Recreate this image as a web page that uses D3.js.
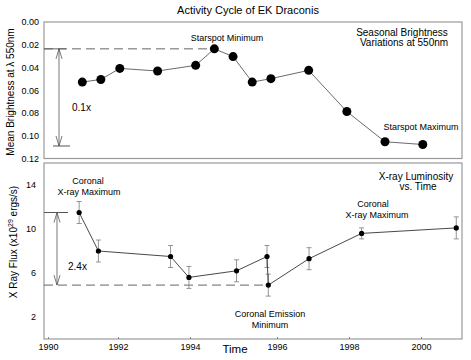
<!DOCTYPE html>
<html>
<head>
<meta charset="utf-8">
<script src="https://cdn.jsdelivr.net/npm/d3@7"></script>
<style>
  body { margin: 0; background: #fff; }
  svg { font-family: "Liberation Sans", Arial, sans-serif; }
  .axis text { font-size: 9px; fill: #000; }
  .axis .domain { display: none; }
  .axis line { stroke: #888; }
</style>
</head>
<body>
<div id="chart"></div>
<script>
// top panel: seasonal brightness
const brightYears = [1990.98, 1991.51, 1992.05, 1993.10, 1994.13, 1994.56, 1994.99, 1995.43, 1995.86, 1996.88, 1997.94, 1999.00, 2000.05];
const brightness = [0.0528, 0.0505, 0.0408, 0.0431, 0.0381, 0.0236, 0.0304, 0.0528, 0.0498, 0.0425, 0.0787, 0.1053, 0.1077];

// bottom panel: x-ray flux
const xrayYears = [1990.89, 1991.44, 1993.46, 1993.97, 1995.07, 1995.77, 1995.80, 1996.89, 1998.35, 2000.98];
const xrayFlux = [11.5, 8.0, 7.5, 5.6, 6.2, 7.5, 4.9, 7.3, 9.6, 10.1];
const xrayErr = [1, 1, 1, 1, 1, 1, 1, 1, 0.5, 1];

const yearTicks = [1990, 1992, 1994, 1996, 1998, 2000];
const brightTicks = [0, 0.02, 0.04, 0.06, 0.08, 0.10, 0.12];
const fluxTicks = [2, 6, 10, 14];

const width = 471, height = 360;
const left = 44, right = 462;
const top1 = 22, bottom1 = 158.5;
const top2 = 163, bottom2 = 339;

const svg = d3.select("#chart").append("svg")
    .attr("width", width)
    .attr("height", height);

// tick labels in the original are not evenly spaced, so a polylinear scale
const xScale = d3.scaleLinear()
    .domain(yearTicks)
    .range([48, 118, 190, 277, 349, 421]);

const yTop = d3.scaleLinear().domain([0, 0.12]).range([top1, bottom1]);
const yBot = d3.scaleLinear().domain([0, 16]).range([bottom2, top2]);

// panel frames
[[top1, bottom1], [top2, bottom2]].forEach(([t, b]) => {
    svg.append("rect")
        .attr("x", left).attr("y", t)
        .attr("width", right - left).attr("height", b - t)
        .attr("fill", "none")
        .attr("stroke", "#999")
        .attr("stroke-width", 1.2);
});

// axes
svg.append("g")
    .attr("class", "axis")
    .attr("transform", `translate(${left},0)`)
    .call(d3.axisLeft(yTop).tickValues(brightTicks).tickFormat(d3.format(".2f")).tickSize(0).tickPadding(5));

svg.append("g")
    .attr("class", "axis")
    .attr("transform", `translate(${left},0)`)
    .call(d3.axisLeft(yBot).tickValues(fluxTicks).tickSize(0).tickPadding(8));

svg.append("g")
    .attr("class", "axis")
    .attr("transform", `translate(0,${bottom2})`)
    .call(d3.axisBottom(xScale).tickValues(yearTicks).tickFormat(d3.format("d")).tickSizeInner(-2).tickSizeOuter(0).tickPadding(5));

// titles and axis labels
svg.append("text")
    .attr("x", 248).attr("y", 14)
    .attr("text-anchor", "middle")
    .attr("font-size", 11)
    .text("Activity Cycle of EK Draconis");

svg.append("text")
    .attr("transform", "translate(14,92) rotate(-90)")
    .attr("text-anchor", "middle")
    .attr("font-size", 10)
    .text("Mean Brightness at \u03bb 550nm");

const yl = svg.append("text")
    .attr("transform", "translate(17,242) rotate(-90)")
    .attr("text-anchor", "middle")
    .attr("font-size", 10);
yl.append("tspan").text("X Ray Flux (x10");
yl.append("tspan").attr("dy", -4).attr("font-size", 7).text("29");
yl.append("tspan").attr("dy", 4).text(" ergs/s)");

svg.append("text")
    .attr("x", 235).attr("y", 353)
    .attr("text-anchor", "middle")
    .attr("font-size", 11.5)
    .text("Time");

// reference lines + range arrows
function rangeArrow(x, y1, y2) {
    svg.append("line")
        .attr("x1", x).attr("x2", x).attr("y1", y1).attr("y2", y2)
        .attr("stroke", "#555").attr("stroke-width", 0.8);
    svg.append("path")
        .attr("d", `M${x - 3},${y1 + 10}L${x},${y1}L${x + 3},${y1 + 10}M${x - 3},${y2 - 10}L${x},${y2}L${x + 3},${y2 - 10}`)
        .attr("fill", "none").attr("stroke", "#555").attr("stroke-width", 0.8);
}

const minB = d3.min(brightness), maxB = 0.109;
svg.append("line")
    .attr("x1", left).attr("x2", xScale(brightYears[brightness.indexOf(minB)]))
    .attr("y1", yTop(minB)).attr("y2", yTop(minB))
    .attr("stroke", "#666").attr("stroke-dasharray", "9,5");
svg.append("line")
    .attr("x1", left).attr("x2", 66)
    .attr("y1", yTop(minB)).attr("y2", yTop(minB))
    .attr("stroke", "#666");
svg.append("line")
    .attr("x1", left + 9).attr("x2", 70)
    .attr("y1", yTop(maxB)).attr("y2", yTop(maxB))
    .attr("stroke", "#555");
rangeArrow(59, yTop(minB), yTop(maxB));
svg.append("text").attr("x", 72).attr("y", 111).attr("font-size", 10).text("0.1x");

const minF = d3.min(xrayFlux), maxF = d3.max(xrayFlux);
svg.append("line")
    .attr("x1", left).attr("x2", xScale(xrayYears[xrayFlux.indexOf(minF)]))
    .attr("y1", yBot(minF)).attr("y2", yBot(minF))
    .attr("stroke", "#666").attr("stroke-dasharray", "9,5");
svg.append("line")
    .attr("x1", left).attr("x2", 68)
    .attr("y1", yBot(maxF)).attr("y2", yBot(maxF))
    .attr("stroke", "#555");
rangeArrow(57, yBot(maxF), yBot(minF));
svg.append("text").attr("x", 68).attr("y", 270).attr("font-size", 10).text("2.4x");

// top series
const topData = brightYears.map((d, i) => ({year: d, value: brightness[i]}));
svg.append("path")
    .datum(topData)
    .attr("fill", "none")
    .attr("stroke", "#444")
    .attr("stroke-width", 0.8)
    .attr("d", d3.line().x(d => xScale(d.year)).y(d => yTop(d.value)));
svg.selectAll(".bdot")
    .data(topData)
    .enter()
    .append("circle")
    .attr("class", "bdot")
    .attr("cx", d => xScale(d.year))
    .attr("cy", d => yTop(d.value))
    .attr("r", 4.5)
    .attr("fill", "#000");

// bottom series
const botData = xrayYears.map((d, i) => ({year: d, value: xrayFlux[i], err: xrayErr[i]}));
const eb = svg.selectAll(".err")
    .data(botData)
    .enter()
    .append("g")
    .attr("class", "err")
    .attr("stroke", "#888")
    .attr("stroke-width", 0.9);
eb.append("line")
    .attr("x1", d => xScale(d.year)).attr("x2", d => xScale(d.year))
    .attr("y1", d => yBot(d.value + d.err)).attr("y2", d => yBot(d.value - d.err));
eb.append("line")
    .attr("x1", d => xScale(d.year) - 2.5).attr("x2", d => xScale(d.year) + 2.5)
    .attr("y1", d => yBot(d.value + d.err)).attr("y2", d => yBot(d.value + d.err));
eb.append("line")
    .attr("x1", d => xScale(d.year) - 2.5).attr("x2", d => xScale(d.year) + 2.5)
    .attr("y1", d => yBot(d.value - d.err)).attr("y2", d => yBot(d.value - d.err));

svg.append("path")
    .datum(botData)
    .attr("fill", "none")
    .attr("stroke", "#333")
    .attr("stroke-width", 0.9)
    .attr("d", d3.line().x(d => xScale(d.year)).y(d => yBot(d.value)));
svg.selectAll(".xdot")
    .data(botData)
    .enter()
    .append("circle")
    .attr("class", "xdot")
    .attr("cx", d => xScale(d.year))
    .attr("cy", d => yBot(d.value))
    .attr("r", 2.6)
    .attr("fill", "#000");

// annotations
const notes = [
    {x: 227, y: 41, size: 9, text: "Starspot Minimum"},
    {x: 402, y: 35.5, size: 10, text: "Seasonal Brightness"},
    {x: 404, y: 46, size: 10, text: "Variations at 550nm"},
    {x: 421, y: 130, size: 9, text: "Starspot Maximum"},
    {x: 88, y: 184, size: 9, text: "Coronal"},
    {x: 89, y: 194.5, size: 9, text: "X-ray Maximum"},
    {x: 416, y: 179.5, size: 10, text: "X-ray Luminosity"},
    {x: 418, y: 190, size: 10, text: "vs. Time"},
    {x: 373, y: 207, size: 9, text: "Coronal"},
    {x: 377, y: 217.5, size: 9, text: "X-ray Maximum"},
    {x: 270, y: 317, size: 9, text: "Coronal Emission"},
    {x: 270, y: 327.5, size: 9, text: "Minimum"}
];
svg.selectAll(".note")
    .data(notes)
    .enter()
    .append("text")
    .attr("class", "note")
    .attr("x", d => d.x)
    .attr("y", d => d.y)
    .attr("font-size", d => d.size)
    .attr("text-anchor", "middle")
    .text(d => d.text);
</script>
</body>
</html>
